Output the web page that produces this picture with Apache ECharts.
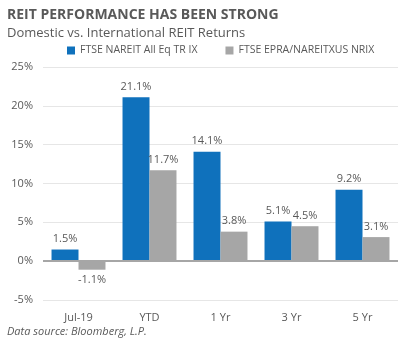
<!DOCTYPE html>
<html><head><meta charset="utf-8">
<script src="https://cdn.jsdelivr.net/npm/echarts@6/dist/echarts.min.js"></script>
<style>html,body{margin:0;padding:0;background:#fff}#c{width:400px;height:339px}</style>
</head><body><div id="c"></div>
<script>
const categories = ['Jul-19', 'YTD', '1 Yr', '3 Yr', '5 Yr'];
const domestic = [1.5, 21.1, 14.1, 5.1, 9.2];
const international = [-1.1, 11.7, 3.8, 4.5, 3.1];
const seriesNames = ['FTSE NAREIT All Eq TR IX', 'FTSE EPRA/NAREITXUS NRIX'];
const yTicks = [-5, 0, 5, 10, 15, 20, 25];

const chart = echarts.init(document.getElementById('c'), null, {renderer: 'canvas'});
const txt = '#595959';
const lbl = {show: true, color: txt, fontSize: 11, fontFamily: 'Open Sans',
  formatter: p => p.value.toFixed(1) + '%'};
chart.setOption({
  animation: false,
  textStyle: {fontFamily: 'Open Sans'},
  title: [
    {text: 'REIT PERFORMANCE HAS BEEN STRONG', left: 2, top: 3,
     textStyle: {fontSize: 14, fontWeight: 'bold', color: txt, fontFamily: 'Open Sans'}},
    {text: 'Domestic vs. International REIT Returns', left: 2, top: 22,
     textStyle: {fontSize: 13, fontWeight: 'normal', color: txt, fontFamily: 'Open Sans'}},
    {text: 'Data source: Bloomberg, L.P.', left: 2, top: 321,
     textStyle: {fontSize: 11, fontWeight: 'normal', fontStyle: 'italic', color: txt, fontFamily: 'Open Sans'}}
  ],
  legend: {top: 40, left: 62, itemWidth: 8, itemHeight: 8, itemGap: 28, icon: 'rect',
    textStyle: {color: txt, fontSize: 10.5, fontFamily: 'Open Sans'},
    data: seriesNames},
  grid: {left: 43, right: 2, top: 67, bottom: 39, containLabel: false, outerBoundsMode: 'none'},
  xAxis: {type: 'category', data: categories,
    axisLine: {show: false}, axisTick: {show: false},
    axisLabel: {color: txt, fontSize: 11, margin: 12}},
  yAxis: {type: 'value', min: yTicks[0], max: yTicks[yTicks.length-1], interval: 5,
    name: 'Returns', nameLocation: 'middle', nameGap: 32, nameRotate: 90,
    nameTextStyle: {color: txt, fontSize: 11},
    axisLine: {show: false}, axisTick: {show: false},
    axisLabel: {color: txt, fontSize: 11, formatter: v => v + '%', margin: 10},
    splitLine: {lineStyle: {color: '#e6e6e6', width: 1}}},
  series: [
    {name: seriesNames[0], type: 'bar', data: domestic, barGap: '0%', barCategoryGap: '24%',
     itemStyle: {color: '#0F71BC'}, label: Object.assign({position: 'top'}, lbl),
     markLine: {silent: true, symbol: 'none', label: {show: false},
       lineStyle: {color: '#A6A6A6', width: 2, type: 'solid'}, data: [{yAxis: 0}]}},
    {name: seriesNames[1], type: 'bar', barGap: '0%', barCategoryGap: '24%',
     data: international.map(v => v < 0 ? {value: v, label: {position: 'bottom'}} : v),
     itemStyle: {color: '#A6A6A6'},
     label: Object.assign({position: 'top'}, lbl)}
  ]
});
</script></body></html>
